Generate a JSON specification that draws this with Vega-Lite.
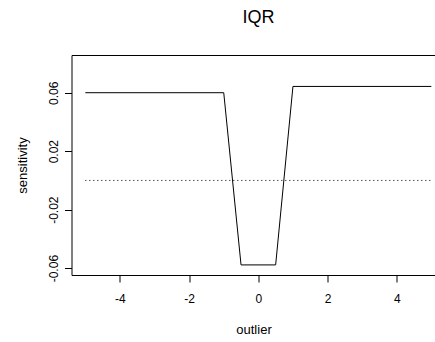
{
  "$schema": "https://vega.github.io/schema/vega-lite/v6.json",
  "autosize": {"type": "none"},
  "padding": {"left": 71.5, "top": 55, "right": 0, "bottom": 67},
  "width": 364,
  "height": 220,
  "background": "white",
  "config": {
    "font": "Liberation Sans",
    "view": {"stroke": "#000", "strokeWidth": 1},
    "axis": {"domain": false, "grid": false, "tickColor": "#000", "tickSize": 7, "labelColor": "#000", "titleColor": "#000", "labelFont": "Liberation Sans", "titleFont": "Liberation Sans", "labelFontSize": 12, "titleFontSize": 13, "titleFontWeight": "normal"}
  },
  "title": {"text": "IQR", "fontSize": 18, "fontWeight": "normal", "font": "Liberation Sans", "color": "#000", "offset": 28, "dx": 5},
  "datasets": {
    "curve": [
      {"outlier": -5, "sensitivity": 0.06},
      {"outlier": -1, "sensitivity": 0.06},
      {"outlier": -0.5, "sensitivity": -0.0578},
      {"outlier": 0.5, "sensitivity": -0.0578},
      {"outlier": 1, "sensitivity": 0.0643},
      {"outlier": 5, "sensitivity": 0.0643}
    ],
    "ref": [
      {"outlier": -5, "sensitivity": 0},
      {"outlier": 5, "sensitivity": 0}
    ]
  },
  "layer": [
    {
      "data": {"name": "curve"},
      "mark": {"type": "line", "color": "#000", "strokeWidth": 1},
      "encoding": {
        "x": {"field": "outlier", "type": "quantitative", "scale": {"domain": [-5.4, 5.12], "nice": false, "zero": false},
          "axis": {"values": [-4, -2, 0, 2, 4], "labelPadding": 11, "titlePadding": 19, "title": "outlier", "labelExpr": "replace(datum.label, '−', '-')", "labelFlush": false}},
        "y": {"field": "sensitivity", "type": "quantitative", "scale": {"domain": [-0.0647, 0.0858], "nice": false, "zero": false},
          "axis": {"values": [-0.06, -0.04, -0.02, 0, 0.02, 0.04, 0.06, 0.08], "title": "sensitivity", "labelAngle": -90, "labelAlign": "center", "labelBaseline": "bottom", "labelPadding": 4, "titlePadding": 18, "labelFlush": false,
            "labelExpr": "indexof(['-0.06','-0.02','0.02','0.06'], replace(format(datum.value, '.2f'), '−', '-')) >= 0 ? replace(format(datum.value, '.2f'), '−', '-') : ''"}}
      }
    },
    {
      "data": {"name": "ref"},
      "mark": {"type": "line", "color": "#000", "strokeWidth": 1, "strokeDash": [1, 3]},
      "encoding": {
        "x": {"field": "outlier", "type": "quantitative"},
        "y": {"field": "sensitivity", "type": "quantitative"}
      }
    }
  ]
}
